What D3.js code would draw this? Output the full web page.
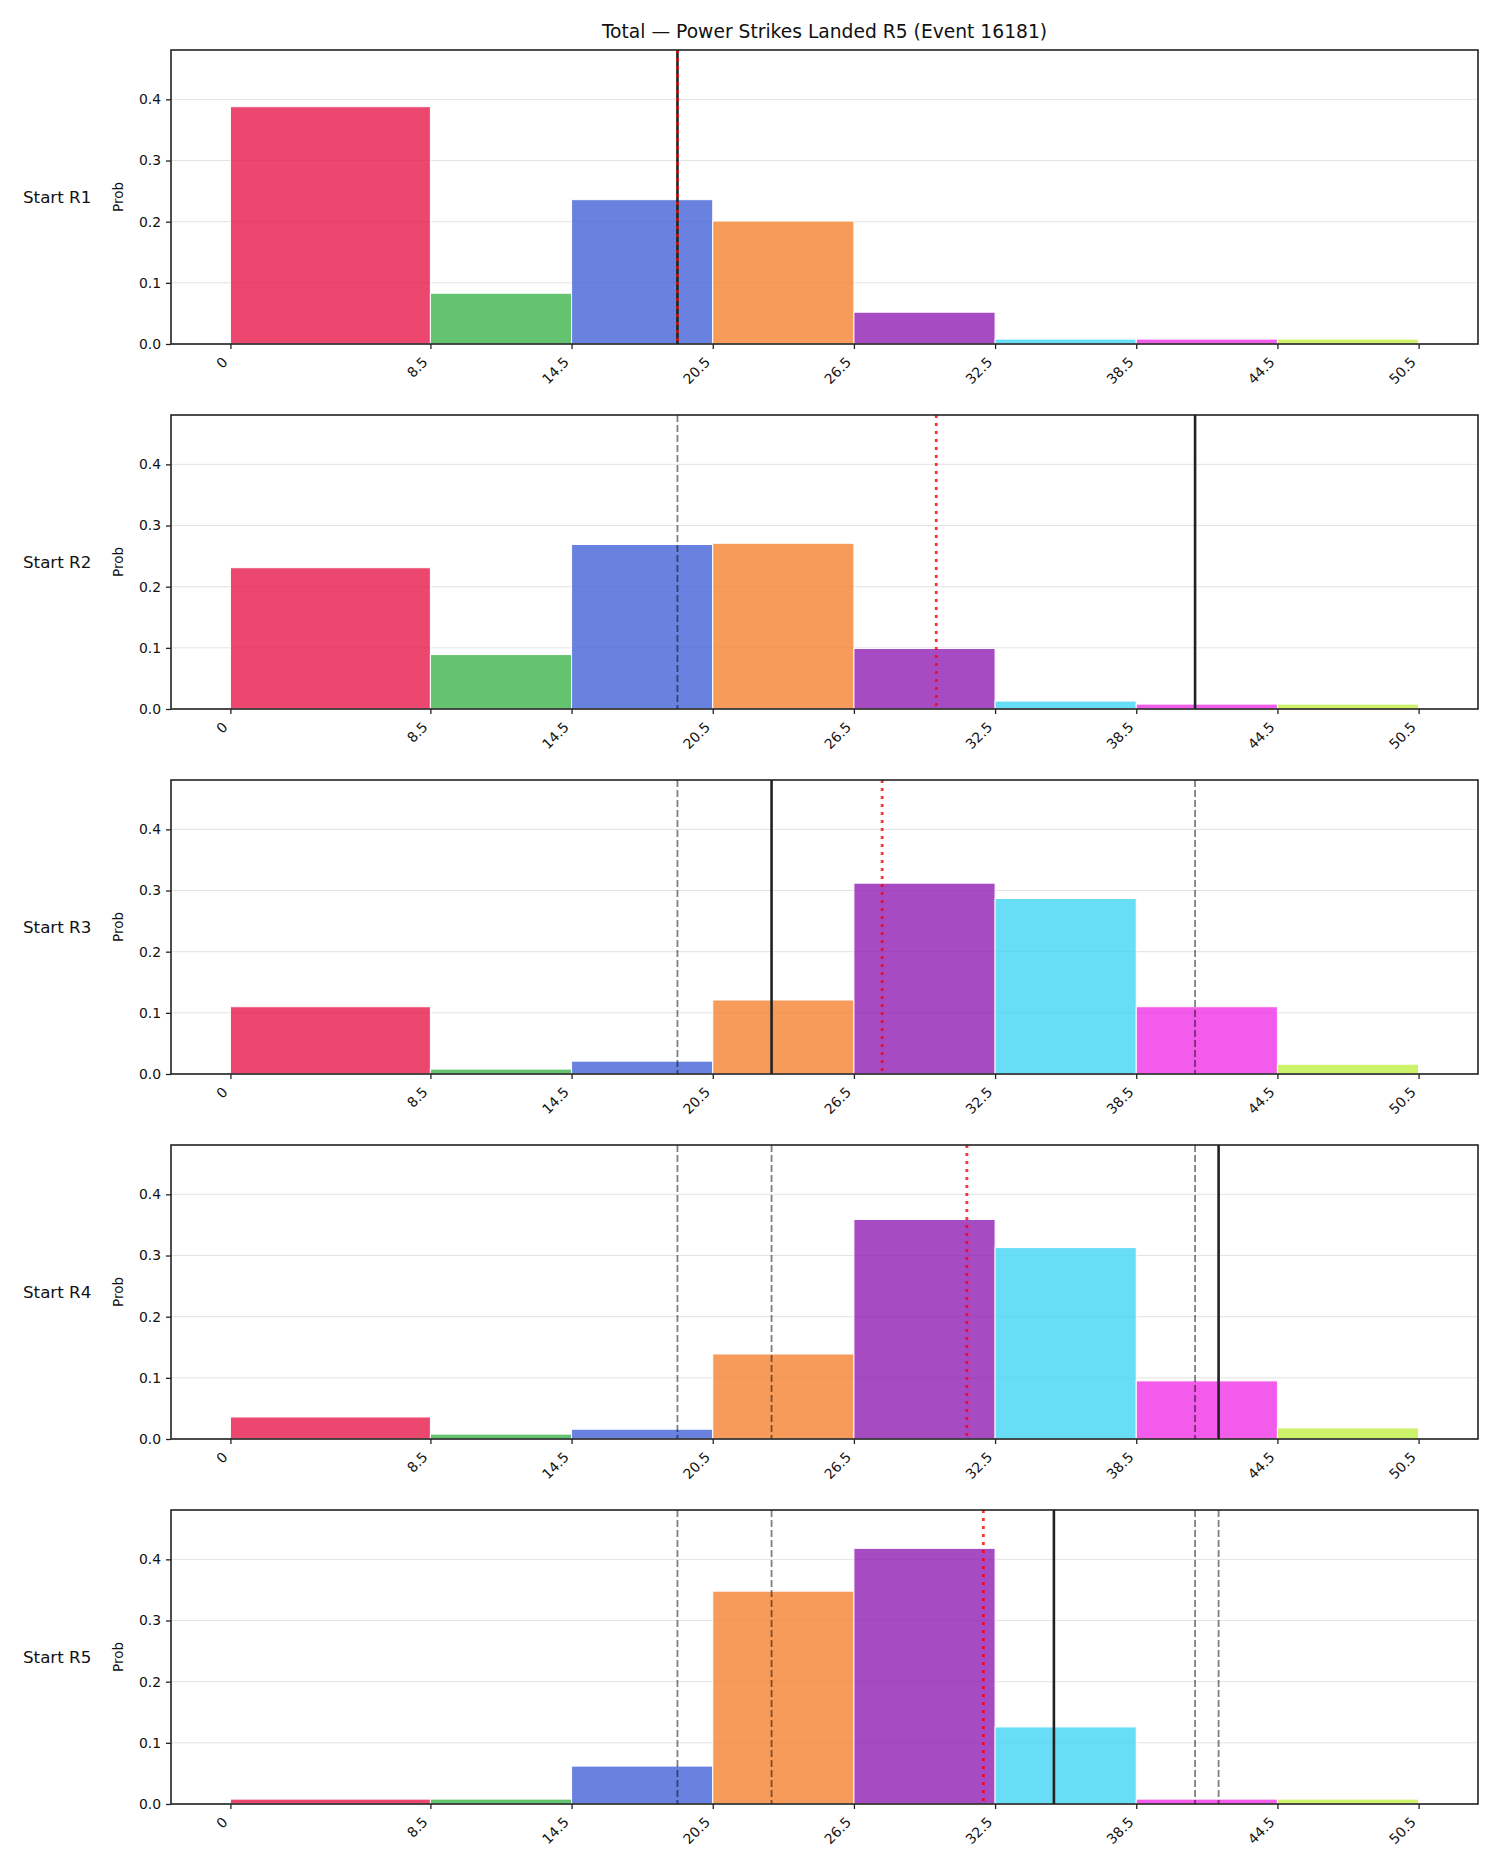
<!DOCTYPE html>
<html>
<head>
<meta charset="utf-8">
<script src="https://cdn.jsdelivr.net/npm/d3@7"></script>
<style>
  body { margin: 0; background: #fff; }
  text { font-family: "DejaVu Sans", sans-serif; fill: #111; }
</style>
</head>
<body>
<svg id="chart"></svg>
<script>
// bins of the histogram (edges) and their tick labels
let binEdges = [0, 8.5, 14.5, 20.5, 26.5, 32.5, 38.5, 44.5, 50.5]
let tickLabels = ["0", "8.5", "14.5", "20.5", "26.5", "32.5", "38.5", "44.5", "50.5"]
let rowLabels = ["Start R1", "Start R2", "Start R3", "Start R4", "Start R5"]
let yTicks = [0, 0.1, 0.2, 0.3, 0.4]

// probability per bin, one list per starting round
let probR1 = [0.388, 0.083, 0.236, 0.201, 0.052, 0.008, 0.008, 0.008]
let probR2 = [0.231, 0.089, 0.269, 0.271, 0.099, 0.013, 0.008, 0.008]
let probR3 = [0.110, 0.008, 0.021, 0.121, 0.312, 0.287, 0.110, 0.016]
let probR4 = [0.036, 0.008, 0.016, 0.139, 0.359, 0.313, 0.095, 0.018]
let probR5 = [0.008, 0.008, 0.062, 0.348, 0.418, 0.126, 0.008, 0.008]

// actual running total per round (solid), earlier ones shown dashed
let actualLine = [19, 41, 23, 42, 35]
// projected line per round (red dotted)
let projLine = [19, 30, 27.7, 31.3, 32]

let binColors = ["#e6194B", "#3cb44b", "#4363d8", "#f58231", "#911eb4", "#42d4f4", "#f032e6", "#bfef45"]

let allProbs = [probR1, probR2, probR3, probR4, probR5]

let svgWidth = 1500, svgHeight = 1875
let left = 171, right = 1478
let panelTop = 50, panelH = 294, panelStep = 365

let svg = d3.select("#chart")
  .attr("width", svgWidth)
  .attr("height", svgHeight)

let xScale = d3.scaleLinear()
  .domain([-0.05 * 50.5, 50.5 * 1.05])
  .range([left, right])

let yMax = d3.max(allProbs.flat()) * 1.15

svg.append("text")
  .attr("x", (left + right) / 2)
  .attr("y", 38)
  .attr("text-anchor", "middle")
  .style("font-size", "18.7px")
  .text("Total — Power Strikes Landed R5 (Event 16181)")

allProbs.forEach((probs, i) => {
  let top = panelTop + i * panelStep
  let yScale = d3.scaleLinear().domain([0, yMax]).range([top + panelH, top])
  let g = svg.append("g")

  // grid
  g.selectAll(".grid")
    .data(yTicks)
    .enter()
    .append("line")
    .attr("x1", left).attr("x2", right)
    .attr("y1", d => yScale(d)).attr("y2", d => yScale(d))
    .attr("stroke", "#e3e3e3")
    .attr("stroke-width", 1)

  // bars
  g.selectAll(".bar")
    .data(probs)
    .enter()
    .append("rect")
    .attr("x", (d, k) => xScale(binEdges[k]))
    .attr("width", (d, k) => xScale(binEdges[k + 1]) - xScale(binEdges[k]))
    .attr("y", d => yScale(d))
    .attr("height", d => yScale(0) - yScale(d))
    .attr("fill", (d, k) => binColors[k])
    .attr("fill-opacity", 0.8)
    .attr("stroke", "#fff")
    .attr("stroke-width", 1)

  // earlier rounds, dashed
  g.selectAll(".prev")
    .data(actualLine.slice(0, i))
    .enter()
    .append("line")
    .attr("x1", d => xScale(d)).attr("x2", d => xScale(d))
    .attr("y1", top).attr("y2", top + panelH)
    .attr("stroke", "#000")
    .attr("stroke-opacity", 0.5)
    .attr("stroke-width", 1.8)
    .attr("stroke-dasharray", "7,3")

  // this round, solid
  g.append("line")
    .attr("x1", xScale(actualLine[i])).attr("x2", xScale(actualLine[i]))
    .attr("y1", top).attr("y2", top + panelH)
    .attr("stroke", "#222")
    .attr("stroke-width", 2.6)

  // projection, red dotted
  g.append("line")
    .attr("x1", xScale(projLine[i])).attr("x2", xScale(projLine[i]))
    .attr("y1", top).attr("y2", top + panelH)
    .attr("stroke", "#ff0000")
    .attr("stroke-opacity", 0.8)
    .attr("stroke-width", 2.8)
    .attr("stroke-dasharray", "3,5")

  // axes
  let yAxis = d3.axisLeft(yScale)
    .tickValues(yTicks)
    .tickFormat(d3.format(".1f"))
    .tickSize(5)
    .tickPadding(5)
  let ya = g.append("g")
    .attr("transform", "translate(" + left + ",0)")
    .call(yAxis)
  ya.select(".domain").remove()
  ya.selectAll("text").style("font-size", "13.9px").attr("fill", "#111")

  let xAxis = d3.axisBottom(xScale)
    .tickValues(binEdges)
    .tickFormat((d, k) => tickLabels[k])
    .tickSize(5)
  let xa = g.append("g")
    .attr("transform", "translate(0," + (top + panelH) + ")")
    .call(xAxis)
  xa.select(".domain").remove()
  xa.selectAll("text")
    .style("font-size", "13.9px")
    .attr("fill", "#111")
    .attr("text-anchor", "end")
    .attr("dy", null)
    .attr("y", 0)
    .attr("transform", "translate(-2.3,19) rotate(-45)")

  g.selectAll(".tick line").attr("stroke", "#222").attr("stroke-width", 1.3)

  // frame
  g.append("rect")
    .attr("x", left).attr("y", top)
    .attr("width", right - left).attr("height", panelH)
    .attr("fill", "none")
    .attr("stroke", "#222")
    .attr("stroke-width", 1.6)

  g.append("text")
    .attr("transform", "translate(122.5," + (top + panelH / 2) + ") rotate(-90)")
    .attr("text-anchor", "middle")
    .style("font-size", "13.5px")
    .text("Prob")

  g.append("text")
    .attr("x", 23)
    .attr("y", top + panelH / 2 + 6)
    .style("font-size", "16.7px")
    .text(rowLabels[i])
})
</script>
</body>
</html>
